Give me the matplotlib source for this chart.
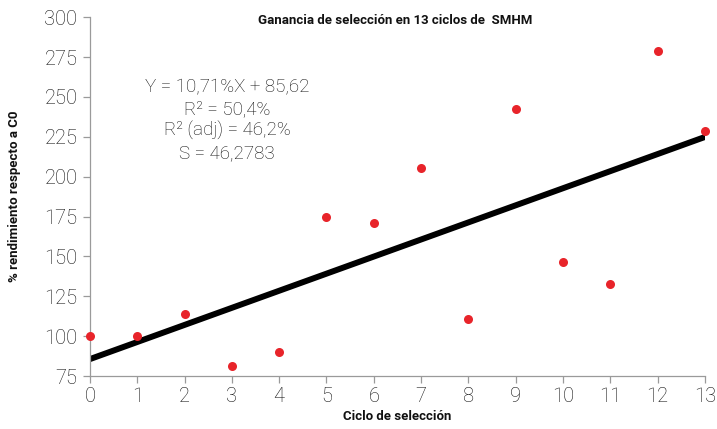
import matplotlib
matplotlib.use("Agg")
import matplotlib.pyplot as plt
import numpy as np

# data
ciclo = [0, 1, 2, 3, 4, 5, 6, 7, 8, 9, 10, 11, 12, 13]
rendimiento = [100, 100, 114, 81, 90, 174.5, 171, 205.5, 110.5, 242.5, 146.5, 132.5, 279, 228.5]
pendiente = 10.71
intercepto = 85.62
x_ticks = list(range(0, 14))
y_ticks = [75, 100, 125, 150, 175, 200, 225, 250, 275, 300]
stats_lines = ["Y = 10,71%X + 85,62", "R² = 50,4%", "R² (adj) = 46,2%", "S = 46,2783"]

light = dict(family=["Roboto", "DejaVu Sans"], weight="light")
narrow_bold = dict(family=["Roboto", "DejaVu Sans"], weight="bold")

fig = plt.figure(figsize=(7.17, 4.29), dpi=100)
ax = fig.add_axes([0.1255, 0.1235, 0.8575, 0.8365])

xl = np.array([ciclo[0], ciclo[-1]])
ax.plot(xl, intercepto + pendiente * xl, color="black", lw=4.3, solid_capstyle="round", zorder=2)
ax.plot(ciclo, rendimiento, "o", color="#e8242a", ms=6.5, mec="none", zorder=3, clip_on=False)

ax.set_xlim(0, 13)
ax.set_ylim(75, 300)
ax.set_xticks(x_ticks)
ax.set_yticks(y_ticks)
for s in ["top", "right"]:
    ax.spines[s].set_visible(False)
for s in ["left", "bottom"]:
    ax.spines[s].set_color("#9a9a9a")
    ax.spines[s].set_linewidth(0.9)
ax.tick_params(colors="#9a9a9a", length=5, width=0.9, labelcolor="#111111", labelsize=14.5)
ax.tick_params(axis="x", pad=3)
ax.tick_params(axis="y", pad=4)
for lab in ax.get_xticklabels() + ax.get_yticklabels():
    lab.set_fontfamily(light["family"])
    lab.set_fontweight("light")

ax.text(0.497, 0.99, "Ganancia de selección en 13 ciclos de  SMHM", transform=ax.transAxes,
        ha="center", va="center", fontsize=9.5, color="#111111", **narrow_bold)
ax.set_xlabel("Ciclo de selección", fontsize=9.5, labelpad=3, color="#111111", **narrow_bold)
ax.set_ylabel("% rendimiento respecto a C0", fontsize=9.5, labelpad=17, color="#111111", **narrow_bold)

ax.text(0.223, 0.713, "\n".join(stats_lines), transform=ax.transAxes, ha="center", va="center",
        fontsize=13.5, color="#111111", linespacing=1.25, **light)

fig.savefig("out.png", dpi=100)
